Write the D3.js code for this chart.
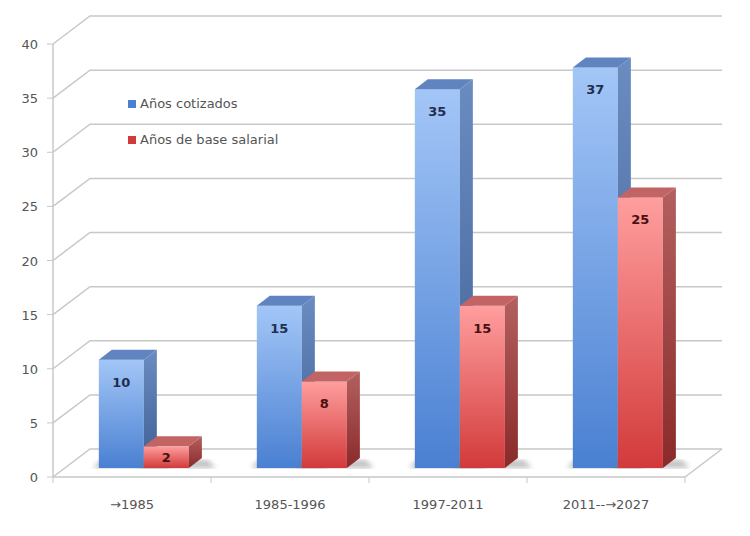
<!DOCTYPE html><html><head><meta charset="utf-8"><script src="https://cdn.jsdelivr.net/npm/d3@7"></script>
<style>body{margin:0;background:#fff}text{font-family:"DejaVu Sans",sans-serif}</style></head><body>
<script>
const categories=["→1985","1985-1996","1997-2011","2011--→2027"];
const cotizados=[10,15,35,37];
const baseSalarial=[2,8,15,25];
const seriesNames=["Años cotizados","Años de base salarial"];
const yTicks=[0,5,10,15,20,25,30,35,40];

const W=750,H=536;
const svg=d3.select("body").append("svg").attr("width",W).attr("height",H);
const y=d3.scaleLinear().domain([0,40]).range([477,44]);
const x=d3.scaleBand().domain(categories).range([53,685]);
const DX=37,DY=-28; // back wall offset
const bx=13,by=-10;  // bar depth
const barShift=-9;   // bar base plane shift
const defs=svg.append("defs");
function grad(id,c1,c2){const g=defs.append("linearGradient").attr("id",id).attr("x1",0).attr("y1",0).attr("x2",0).attr("y2",1);
g.append("stop").attr("offset",0).attr("stop-color",c1);g.append("stop").attr("offset",1).attr("stop-color",c2);}
grad("bf","#a3c6f7","#4a80d2");grad("bs","#6a8cc0","#3d5f95");
grad("rf","#ff9e9e","#d23a3a");grad("rs","#b46060","#8a2a2a");
defs.append("filter").attr("id","blur").append("feGaussianBlur").attr("stdDeviation",2.5);

const grid="#c8c8c8";
// grid lines
yTicks.forEach(t=>{const yy=y(t);
 svg.append("path").attr("d",`M53,${yy}L${53+DX},${yy+DY}L722,${yy+DY}`).attr("fill","none").attr("stroke",grid).attr("stroke-width",1.5);
 svg.append("line").attr("x1",47).attr("x2",53).attr("y1",yy).attr("y2",yy).attr("stroke",grid);
 svg.append("text").attr("x",38).attr("y",yy+5).attr("text-anchor","end").attr("font-size",13).attr("fill","#555").text(t);
});
// floor
svg.append("path").attr("d",`M53,477L685,477L722,449`).attr("fill","none").attr("stroke",grid).attr("stroke-width",1.5);
svg.append("line").attr("x1",53).attr("x2",53).attr("y1",y(40)).attr("y2",477).attr("stroke",grid).attr("stroke-width",1.5);
categories.forEach(c=>{svg.append("line").attr("x1",x(c)).attr("x2",x(c)).attr("y1",477).attr("y2",483).attr("stroke",grid);});
svg.append("line").attr("x1",685).attr("x2",685).attr("y1",477).attr("y2",483).attr("stroke",grid);
// category labels
categories.forEach(c=>svg.append("text").attr("x",x(c)+x.bandwidth()/2).attr("y",509).attr("text-anchor","middle").attr("font-size",13).attr("fill","#555").text(c));

const bw=x.bandwidth()*0.285;
function bar(x0,v,f,s,lbl){
 const yb=y(0)+barShift, yt=y(v)+barShift;
 svg.append("path").attr("d",`M${x0-6},${yb}L${x0+bw+bx+14},${yb}L${x0+bw+bx+6},${yb+by+2}L${x0+2},${yb+by+2}Z`).attr("fill","#777").attr("opacity",0.45).attr("filter","url(#blur)");
 svg.append("rect").attr("x",x0).attr("y",yt).attr("width",bw).attr("height",yb-yt).attr("fill",`url(#${f})`);
 svg.append("path").attr("d",`M${x0+bw},${yt}L${x0+bw+bx},${yt+by}L${x0+bw+bx},${yb+by}L${x0+bw},${yb}Z`).attr("fill",`url(#${s})`);
 svg.append("path").attr("d",`M${x0},${yt}L${x0+bx},${yt+by}L${x0+bw+bx},${yt+by}L${x0+bw},${yt}Z`).attr("fill",s==="bs"?"#5f84bf":"#c26464");
 svg.append("text").attr("x",x0+bw/2).attr("y",Math.min(yt+27,yb-6)).attr("text-anchor","middle").attr("font-size",13).attr("font-weight","bold").attr("fill",s==="bs"?"#1f2f4f":"#4a1010").text(lbl);
}
categories.forEach((c,i)=>{
 const x0=x(c)+x.bandwidth()*0.29;
 bar(x0,cotizados[i],"bf","bs",cotizados[i]);
});
categories.forEach((c,i)=>{
 const x0=x(c)+x.bandwidth()*0.29+bw;
 bar(x0,baseSalarial[i],"rf","rs",baseSalarial[i]);
});
// legend
const lc=["#4a80d2","#d23a3a"];
seriesNames.forEach((n,i)=>{const ly=108+i*36;
 svg.append("rect").attr("x",128).attr("y",ly-8).attr("width",8).attr("height",8).attr("fill",lc[i]);
 svg.append("text").attr("x",140).attr("y",ly).attr("font-size",13).attr("fill","#555").text(n);
});
</script></body></html>
